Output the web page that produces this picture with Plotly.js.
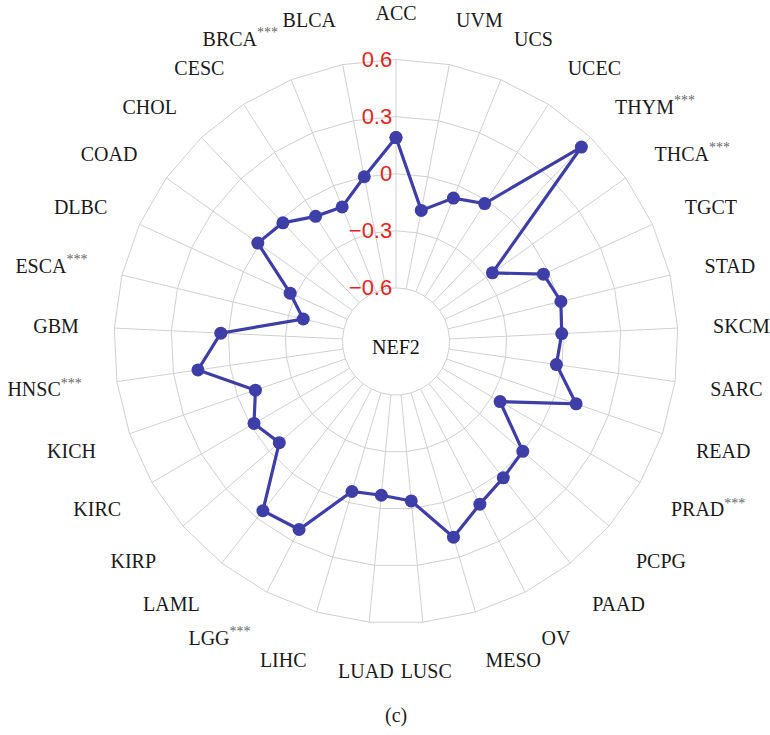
<!DOCTYPE html>
<html>
<head>
<meta charset="utf-8">
<script src="https://cdn.plot.ly/plotly-3.0.1.min.js"></script>
<style>html,body{margin:0;padding:0;background:#fff;}#chart{width:770px;height:735px;}</style>
</head>
<body>
<div id="chart"></div>
<script>
const categories = ['ACC','UVM','UCS','UCEC','THYM','THCA','TGCT','STAD','SKCM','SARC','READ','PRAD','PCPG','PAAD','OV','MESO','LUSC','LUAD','LIHC','LGG','LAML','KIRP','KIRC','KICH','HNSC','GBM','ESCA','DLBC','COAD','CHOL','CESC','BRCA','BLCA'];
const significant = ['THYM','THCA','PRAD','LGG','HNSC','ESCA','BRCA'];
const nef2Values = [0.19,-0.18,-0.07,-0.02,0.53,-0.26,-0.03,0.01,-0.01,-0.03,0.12,-0.25,0.00,0.03,0.08,0.19,-0.04,-0.07,-0.06,0.23,0.25,-0.07,-0.02,-0.10,0.17,0.04,-0.38,-0.27,0.01,-0.02,-0.10,-0.12,0.00];
const radialTicks = [-0.6,-0.3,0,0.3,0.6];
const radialTickText = ['\u22120.6','\u22120.3','0','0.3','0.6'];
const geneName = 'NEF2';
const panelLabel = '(c)';

const tickText = categories.map(c => significant.includes(c) ? c + '<sup><span style="color:#666">***</span></sup>' : c);
const lineColor = 'rgb(62,62,168)';

const lineTrace = {
  type: 'scatterpolar',
  mode: 'lines+markers',
  cliponaxis: true,
  theta: categories.concat([categories[0]]),
  r: nef2Values.concat([nef2Values[0]]),
  line: {color: lineColor, width: 3.2},
  marker: {color: lineColor, size: 13, symbol: 'circle'},
  showlegend: false
};

const layout = {
  width: 770, height: 735,
  margin: {l: 0, r: 0, t: 0, b: 0},
  paper_bgcolor: '#fff',
  showlegend: false,
  polar: {
    domain: {x: [0.1481, 0.8805], y: [0.1517, 0.9191]},
    bgcolor: '#fff',
    hole: 0.19,
    gridshape: 'linear',
    radialaxis: {
      range: [-0.6, 0.6],
      tickmode: 'array',
      tickvals: radialTicks,
      ticktext: radialTickText,
      angle: 90,
      tickangle: 90,
      side: 'counterclockwise',
      showline: false,
      ticks: '',
      gridcolor: '#d0d0d0',
      gridwidth: 1,
      tickfont: {family: 'Liberation Sans, Arial, sans-serif', size: 22, color: '#e8231c'}
    },
    angularaxis: {
      type: 'category',
      categoryarray: categories,
      rotation: 90,
      direction: 'clockwise',
      tickmode: 'array',
      tickvals: categories,
      ticktext: tickText,
      ticks: 'outside',
      ticklen: 31,
      tickcolor: 'rgba(0,0,0,0)',
      showline: true,
      linecolor: '#d0d0d0',
      linewidth: 1,
      gridcolor: '#d0d0d0',
      gridwidth: 1,
      tickfont: {family: 'Liberation Serif, Times New Roman, serif', size: 20, color: '#1a1a1a'}
    }
  },
  annotations: [
    {text: geneName, x: 0.5143, y: 0.5275, xref: 'paper', yref: 'paper', xanchor: 'center', yanchor: 'middle', showarrow: false,
     font: {family: 'Liberation Serif, Times New Roman, serif', size: 20, color: '#111'}},
    {text: panelLabel, x: 0.5143, y: 0.026, xref: 'paper', yref: 'paper', xanchor: 'center', yanchor: 'middle', showarrow: false,
     font: {family: 'Liberation Serif, Times New Roman, serif', size: 20, color: '#222'}}
  ]
};

Plotly.newPlot('chart', [lineTrace], layout, {displayModeBar: false});
</script>
</body>
</html>
